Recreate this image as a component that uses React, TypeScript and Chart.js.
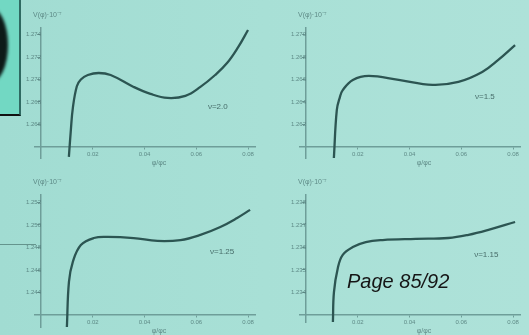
import React, { useEffect, useRef } from "react";
import { Chart, registerables } from "chart.js";

Chart.register(...registerables);

// ---------- data ----------
const xTickValues = [0.02, 0.04, 0.06, 0.08];
const xTickLabels = ["0.02", "0.04", "0.06", "0.08"];
const yTickValues = [1, 2, 3, 4, 5];
const xTitle = "φ/φc";
const yTitle = "V(φ)·10⁻⁷";

const nu20X = [0.01077, 0.01154, 0.0123, 0.01385, 0.0154, 0.0181, 0.0223, 0.0269, 0.0358, 0.0423, 0.0489, 0.0558, 0.0616, 0.0673, 0.0719, 0.0762, 0.08];
const nu20Y = [-0.44, 0.76, 1.73, 2.7, 3.0, 3.2, 3.29, 3.2, 2.67, 2.36, 2.18, 2.27, 2.67, 3.2, 3.73, 4.44, 5.2];
const nu20Ticks = ["1.266", "1.268", "1.270", "1.272", "1.274"];

const nu15X = [0.01077, 0.0119, 0.0131, 0.0142, 0.0181, 0.0243, 0.0358, 0.0489, 0.0589, 0.0681, 0.0743, 0.0808];
const nu15Y = [-0.49, 1.64, 2.22, 2.53, 2.98, 3.16, 2.98, 2.76, 2.89, 3.33, 3.87, 4.53];
const nu15Ticks = ["1.262", "1.264", "1.266", "1.268", "1.270"];

const nu125X = [0.01, 0.0108, 0.0123, 0.0154, 0.0204, 0.0258, 0.0358, 0.045, 0.0539, 0.0616, 0.0693, 0.0758, 0.0808];
const nu125Y = [-0.53, 1.47, 2.36, 3.11, 3.42, 3.47, 3.42, 3.29, 3.33, 3.56, 3.91, 4.31, 4.67];
const nu125Ticks = ["1.244", "1.246", "1.248", "1.250", "1.252"];

const nu115X = [0.0104, 0.0108, 0.0123, 0.0142, 0.0181, 0.0231, 0.0296, 0.0424, 0.055, 0.0628, 0.0705, 0.0808];
const nu115Y = [-0.31, 1.02, 2.09, 2.67, 3.02, 3.24, 3.33, 3.38, 3.42, 3.56, 3.78, 4.13];
const nu115Ticks = ["1.234", "1.235", "1.236", "1.237", "1.238"];

const nuLabels = ["ν=2.0", "ν=1.5", "ν=1.25", "ν=1.15"];

// ---------- styling ----------
const curveColor = "#2c5552";
const axisColor = "#6e9e99";
const faintText = "rgba(70,110,108,0.75)";
const fontFamily = '"Liberation Sans", Arial, sans-serif';

const panelText = {
  id: "panelText",
  afterDraw(chart: any, _args: any, opts: any) {
    const { ctx, scales } = chart;
    const x = scales.x;
    const y = scales.y;
    ctx.save();
    ctx.fillStyle = "rgba(60,95,93,0.9)";
    ctx.font = `8px ${fontFamily}`;
    ctx.textAlign = "left";
    ctx.textBaseline = "middle";
    ctx.fillText(opts.label, x.getPixelForValue(opts.labelX), y.getPixelForValue(opts.labelY));
    ctx.fillStyle = faintText;
    ctx.font = `7px ${fontFamily}`;
    ctx.fillText(opts.yTitle, x.getPixelForValue(0) - 8, y.top - 13);
    ctx.textAlign = "center";
    ctx.fillText(opts.xTitle, x.getPixelForValue(0.0456), y.getPixelForValue(0) + 16);
    ctx.restore();
  },
};

type PanelProps = {
  xs: number[];
  ys: number[];
  tickLabels: string[];
  label: string;
  labelX: number;
  labelY: number;
  left: number;
  top: number;
  yMin: number;
  yMax: number;
  padTop: number;
  padBottom: number;
};

function Panel(p: PanelProps) {
  const ref = useRef<HTMLCanvasElement | null>(null);
  useEffect(() => {
    if (!ref.current) return;
    const chart = new Chart(ref.current, {
      type: "line",
      data: {
        datasets: [
          {
            data: p.xs.map((x, i) => ({ x, y: p.ys[i] })),
            borderColor: curveColor,
            borderWidth: 2.3,
            pointRadius: 0,
            tension: 0.4,
            fill: false,
          },
        ],
      },
      options: {
        animation: false,
        responsive: false,
        devicePixelRatio: 1,
        layout: { padding: { left: 35, right: 10, top: p.padTop, bottom: p.padBottom } },
        plugins: {
          legend: { display: false },
          tooltip: { enabled: false },
          panelText: { label: p.label, labelX: p.labelX, labelY: p.labelY, yTitle, xTitle },
        } as any,
        scales: {
          x: {
            type: "linear",
            min: -0.00232,
            max: 0.0827,
            position: { y: 0 } as any,
            afterBuildTicks: (s: any) => {
              s.ticks = xTickValues.map((v) => ({ value: v }));
            },
            ticks: {
              callback: (_v: any, i: number) => xTickLabels[i],
              font: { size: 6, family: fontFamily },
              color: faintText,
              padding: 2,
              maxRotation: 0,
              autoSkip: false,
            },
            grid: { drawOnChartArea: false, drawTicks: true, tickLength: 2, color: axisColor },
            border: { display: true, color: axisColor, width: 1.5 },
          },
          y: {
            type: "linear",
            min: p.yMin,
            max: p.yMax,
            position: { x: 0 } as any,
            afterBuildTicks: (s: any) => {
              s.ticks = yTickValues.map((v) => ({ value: v }));
            },
            ticks: {
              callback: (_v: any, i: number) => p.tickLabels[i],
              font: { size: 6, family: fontFamily },
              color: faintText,
              padding: 2,
              autoSkip: false,
            },
            grid: { drawOnChartArea: false, drawTicks: true, tickLength: 3, color: axisColor },
            border: { display: true, color: axisColor, width: 1.5 },
          },
        },
      },
      plugins: [panelText as any],
    });
    return () => chart.destroy();
  }, []);
  return (
    <canvas
      ref={ref}
      width={265}
      height={170}
      style={{ position: "absolute", left: p.left, top: p.top, width: 265, height: 170, filter: "blur(0.7px)" }}
    />
  );
}

export default function App() {
  return (
    <div
      style={{
        position: "fixed",
        left: 0,
        top: 0,
        width: 529,
        height: 335,
        overflow: "hidden",
        background: "linear-gradient(90deg, #a1dcd2 0%, #a8e0d6 50%, #aee2d9 100%)",
      }}
    >
      <div
        style={{
          position: "absolute",
          left: 0,
          top: 0,
          width: 19,
          height: 114,
          background: "#72d8c3",
          borderRight: "2px solid #2f6a62",
          borderBottom: "2px solid #111",
          overflow: "hidden",
          filter: "blur(0.5px)",
        }}
      >
        <div
          style={{
            position: "absolute",
            left: -26,
            top: 8,
            width: 34,
            height: 74,
            borderRadius: "50%",
            background: "#0d1a18",
            filter: "blur(1.5px)",
          }}
        />
      </div>
      <div
        style={{
          position: "absolute",
          left: 0,
          top: 244,
          width: 36,
          height: 1,
          background: "rgba(60,100,95,0.6)",
        }}
      />
      <Panel xs={nu20X} ys={nu20Y} tickLabels={nu20Ticks} label={nuLabels[0]} labelX={0.0645} labelY={1.78}
        left={0} top={0} yMin={-0.49} yMax={5.29} padTop={28} padBottom={12} />
      <Panel xs={nu15X} ys={nu15Y} tickLabels={nu15Ticks} label={nuLabels[1]} labelX={0.0653} labelY={2.22}
        left={265} top={0} yMin={-0.49} yMax={5.29} padTop={28} padBottom={12} />
      <Panel xs={nu125X} ys={nu125Y} tickLabels={nu125Ticks} label={nuLabels[2]} labelX={0.0653} labelY={2.8}
        left={0} top={165} yMin={-0.53} yMax={5.33} padTop={30} padBottom={8} />
      <Panel xs={nu115X} ys={nu115Y} tickLabels={nu115Ticks} label={nuLabels[3]} labelX={0.065} labelY={2.67}
        left={265} top={165} yMin={-0.31} yMax={5.33} padTop={30} padBottom={13} />
      <div
        style={{
          position: "absolute",
          left: 347,
          top: 270,
          font: 'italic 20px "Liberation Sans", Arial, sans-serif',
          color: "#151515",
          whiteSpace: "nowrap",
        }}
      >
        Page 85/92
      </div>
    </div>
  );
}
